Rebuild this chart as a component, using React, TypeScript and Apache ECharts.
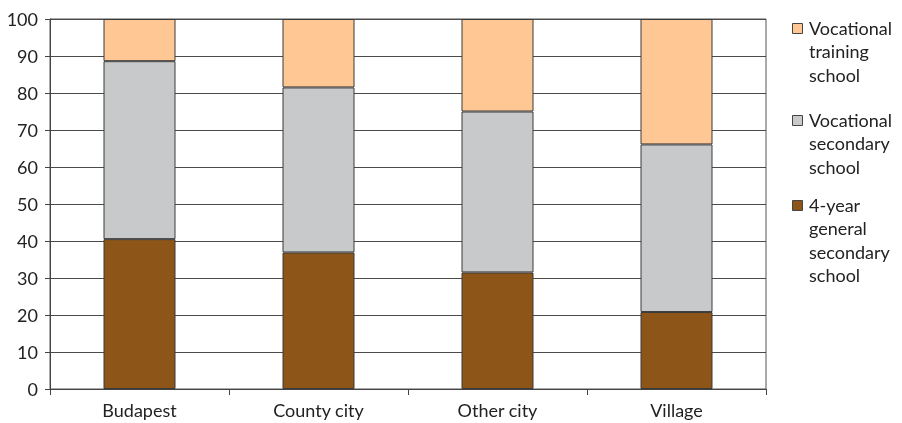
import React, { useEffect, useRef } from "react";
import * as echarts from "echarts";

// Share of students by school type, per settlement type (%)
const categories = ["Budapest", "County city", "Other city", "Village"];
const generalSecondary = [40.5, 36.9, 31.5, 20.8];
const vocationalSecondary = [48.1, 44.6, 43.5, 45.3];
const vocationalTraining = [11.4, 18.5, 25.0, 33.9];
const yTicks = [0, 10, 20, 30, 40, 50, 60, 70, 80, 90, 100];

const seriesNames = [
  "4-year\ngeneral\nsecondary\nschool",
  "Vocational\nsecondary\nschool",
  "Vocational\ntraining\nschool",
];
const seriesColors = ["#8E5518", "#C8C9CB", "#FEC794"];

const FONT = "Lato, 'Open Sans', sans-serif";

export default function App() {
  const ref = useRef<HTMLDivElement>(null);

  useEffect(() => {
    if (!ref.current) return;
    const chart = echarts.init(ref.current, undefined, { renderer: "svg" });

    const values = [generalSecondary, vocationalSecondary, vocationalTraining];

    // Legend drawn top-down: training, secondary, general
    const legendOrder = [2, 1, 0];
    const legendCenters = [28, 120, 205];
    const legendGraphics: any[] = [];
    legendOrder.forEach((si, k) => {
      legendGraphics.push({
        type: "rect",
        left: 792,
        top: legendCenters[k] - 5,
        shape: { x: 0, y: 0, width: 10, height: 10 },
        style: { fill: seriesColors[si], stroke: "#444", lineWidth: 1 },
      });
      legendGraphics.push({
        type: "text",
        left: 809,
        top: legendCenters[k] - 12,
        style: {
          text: seriesNames[si],
          font: `18px ${FONT}`,
          fill: "#222",
          lineHeight: 23.5,
        },
      });
    });

    chart.setOption({
      animation: false,
      grid: {
        left: 50,
        right: 136,
        top: 19,
        bottom: 34,
        show: true,
        borderColor: "#555",
        borderWidth: 1,
      },
      xAxis: {
        type: "category",
        data: categories,
        boundaryGap: true,
        axisLine: { lineStyle: { color: "#444", width: 1 } },
        axisTick: { show: true, length: 6, alignWithLabel: false, lineStyle: { color: "#444" } },
        axisLabel: { fontFamily: FONT, fontSize: 18, color: "#222", margin: 12 },
      },
      yAxis: {
        type: "value",
        min: yTicks[0],
        max: yTicks[yTicks.length - 1],
        interval: 10,
        axisLine: { show: true, lineStyle: { color: "#444", width: 1 } },
        axisTick: { show: true, length: 5, lineStyle: { color: "#444" } },
        axisLabel: { fontFamily: FONT, fontSize: 18, color: "#222", margin: 12 },
        splitLine: { show: true, lineStyle: { color: "#4a4a4a", width: 1 } },
      },
      series: values.map((v, i) => ({
        name: seriesNames[i],
        type: "bar",
        stack: "total",
        data: v,
        barWidth: 72,
        itemStyle: { color: seriesColors[i], borderColor: "#3a3a3a", borderWidth: 1 },
      })),
      graphic: legendGraphics,
    });

    return () => chart.dispose();
  }, []);

  return (
    <div
      ref={ref}
      style={{ position: "fixed", left: 0, top: 0, width: 902, height: 423 }}
    />
  );
}
